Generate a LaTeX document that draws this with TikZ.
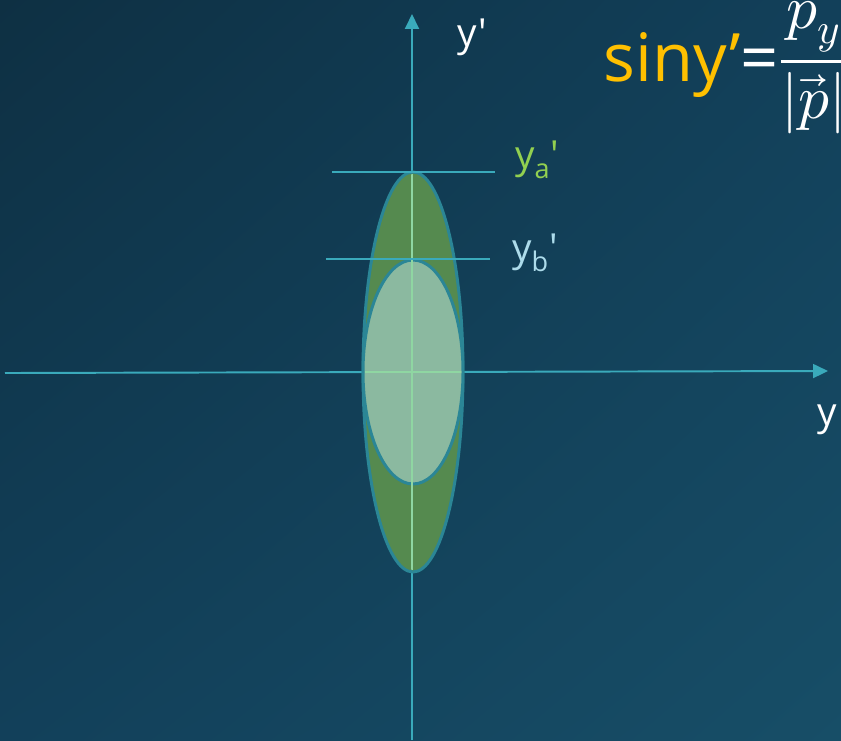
\documentclass[tikz,border=0pt]{standalone}
\usepackage{fontspec}
\usepackage{unicode-math}
\setmainfont{Open Sans}[Ligatures=TeXOff]
\setmathfont{Latin Modern Math}
\usetikzlibrary{arrows.meta,positioning,shadings}

\definecolor{bgdark}{HTML}{0E3043}
\definecolor{bgmid}{HTML}{12405A}
\definecolor{bglight}{HTML}{174E67}
\definecolor{axiscyan}{HTML}{3AAABB}
\definecolor{rimteal}{HTML}{2B8696}
\definecolor{outergreen}{HTML}{558A4F}
\definecolor{innermint}{HTML}{8BB9A0}
\definecolor{innerline}{HTML}{8FD6A2}
\definecolor{labelgreen}{HTML}{92D050}
\definecolor{labelblue}{HTML}{ADDCEB}
\definecolor{formulagold}{HTML}{FFC000}

\tikzset{
  axisline/.style={draw=axiscyan, line width=1.1pt, -{Triangle[length=0.3cm,width=0.28cm]}},
  levelline/.style={draw=axiscyan, line width=0.7pt},
  rim/.style={draw=rimteal, line width=1.7pt},
  lab/.style={text=white, font=\fontsize{22}{24}\selectfont, inner sep=0pt},
}

\begin{document}
\begin{tikzpicture}[x=0.02cm, y=-0.02cm]
    \useasboundingbox (0,0) rectangle (841,740);
    \clip (0,0) rectangle (841,740);
    \shade[upper left=bgdark, upper right=bgmid, lower left=bgmid, lower right=bglight] (0,0) rectangle (841,740);

    % axes
    \coordinate (o) at (413,372);
    \coordinate (xstart) at (5,373);
    \coordinate (xend) at (828,371);
    \coordinate (ystart) at (412,740);
    \coordinate (yend) at (412,14);
    \draw[axisline] (xstart) -- (xend);
    \draw[axisline] (ystart) -- (yend);

    % ellipses
    \draw[rim, fill=outergreen] (o) ellipse [x radius=50, y radius=200];
    \draw[rim, fill=innermint] (o) ellipse [x radius=50, y radius=112];
    \begin{scope}
        \clip (o) ellipse [x radius=48, y radius=198];
        \draw[innerline, line width=1pt] (412,172) -- (412,572);
        \draw[innerline, line width=1pt] (363,372) -- (463,372);
    \end{scope}

    % level lines
    \draw[levelline] (332,172) -- (495,172);
    \draw[levelline] (326,259) -- (490,259);

    \node[lab] (yplabel) at (472,37) {y'};
    \node[lab, text=labelgreen] (yalabel) at (537,160) {y\textsubscript{a}'};
    \node[lab, text=labelblue] (yblabel) at (535,253) {y\textsubscript{b}'};
    \node[lab] (ylabel) at (827,420) {y};
    \node[anchor=base west, inner sep=0pt, font=\fontsize{38}{40}\selectfont] (sinlabel) at (603,82)
        {\textcolor{formulagold}{siny’}\textcolor{white}{=\raisebox{3pt}{\fontsize{35}{38}\selectfont$\displaystyle\frac{p_y}{|\vec{p}|}$}}};
\end{tikzpicture}
\end{document}
